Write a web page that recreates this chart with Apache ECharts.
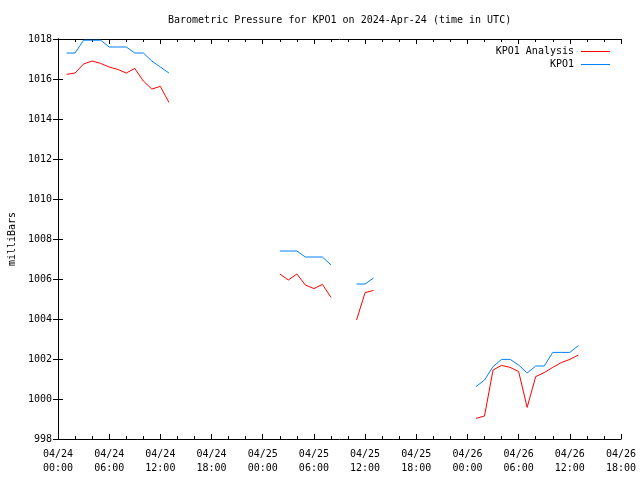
<!DOCTYPE html>
<html>
<head>
<meta charset="utf-8">
<script src="https://cdn.jsdelivr.net/npm/echarts@6/dist/echarts.min.js"></script>
<style>html,body{margin:0;padding:0;background:#fff}#c{width:640px;height:480px}</style>
</head>
<body>
<div id="c"></div>
<script>
// hours since 2024-04-24 00:00 UTC; null = gap in the record
const hours = [1,2,3,4,5,6,7,8,9,10,11,12,13,14,
               26,27,28,29,30,31,32,33,
               35,36,37,38,
               49,50,51,52,53,54,55,56,57,58,59,60,61];
const analysis = [1016.23,1016.3,1016.75,1016.9,1016.78,1016.6,1016.48,1016.3,1016.53,1015.9,1015.5,1015.63,1014.83,null,
                  1006.25,1005.95,1006.25,1005.7,1005.52,1005.73,1005.08,null,
                  1003.95,1005.32,1005.43,null,
                  999.03,999.15,1001.45,1001.68,1001.58,1001.37,999.58,1001.12,1001.32,1001.58,1001.82,1001.98,1002.2];
const observed = [1017.3,1017.3,1017.94,1017.94,1017.94,1017.6,1017.6,1017.6,1017.3,1017.3,1016.9,1016.6,1016.3,null,
                  1007.4,1007.4,1007.4,1007.1,1007.1,1007.1,1006.7,null,
                  1005.75,1005.75,1006.05,null,
                  1000.62,1000.95,1001.62,1001.98,1001.98,1001.7,1001.3,1001.65,1001.65,1002.33,1002.33,1002.33,1002.67];
const xTickLabels = ['04/24\n00:00','04/24\n06:00','04/24\n12:00','04/24\n18:00',
                     '04/25\n00:00','04/25\n06:00','04/25\n12:00','04/25\n18:00',
                     '04/26\n00:00','04/26\n06:00','04/26\n12:00','04/26\n18:00'];
const seriesNames = ['KPO1 Analysis','KPO1'];
const seriesColors = ['#ff0000','#0080ff'];

const FONT = 'DejaVu Sans Mono';
const pairs = vals => hours.map((h,i) => [h, vals[i] === null ? '-' : vals[i]]);

const chart = echarts.init(document.getElementById('c'), null, {renderer:'canvas'});
const axisLine = {show:true, lineStyle:{color:'#000', width:1}};
chart.setOption({
  animation:false,
  backgroundColor:'#fff',
  title:{text:'Barometric Pressure for KPO1 on 2024-Apr-24 (time in UTC)', left:168, top:15, padding:0,
    textStyle:{fontFamily:FONT, fontSize:10, fontWeight:'normal', color:'#000'}},
  legend:{orient:'vertical', right:30, top:45, padding:0, align:'right', itemGap:0, itemWidth:29, itemHeight:1,
    icon:'rect', textStyle:{fontFamily:FONT, fontSize:10, color:'#000', lineHeight:13, padding:[0,2,0,0]},
    data:seriesNames},
  grid:{left:58, top:39, width:563, height:400, containLabel:false, outerBoundsMode:'none'},
  xAxis:[{type:'value', min:0, max:66, interval:6, position:'bottom',
    axisLine:axisLine,
    axisTick:{show:true, inside:true, length:5, lineStyle:{color:'#000'}},
    minorTick:{show:true, splitNumber:3, length:3, lineStyle:{color:'#000'}},
    splitLine:{show:false},
    axisLabel:{fontFamily:FONT, fontSize:10, color:'#000', margin:8, lineHeight:14,
      formatter:v => xTickLabels[Math.round(v/6)]}},
   {type:'value', min:0, max:66, interval:6, position:'top',
    axisLine:axisLine,
    axisTick:{show:true, inside:true, length:5, lineStyle:{color:'#000'}},
    minorTick:{show:true, splitNumber:3, length:3, lineStyle:{color:'#000'}},
    splitLine:{show:false}, axisLabel:{show:false}}],
  yAxis:[{type:'value', min:998, max:1018, interval:2, position:'left',
    name:'milliBars', nameLocation:'middle', nameGap:41, nameRotate:90,
    nameTextStyle:{fontFamily:FONT, fontSize:10, color:'#000'},
    axisLine:axisLine,
    axisTick:{show:true, inside:true, length:5, lineStyle:{color:'#000'}},
    splitLine:{show:false},
    axisLabel:{fontFamily:FONT, fontSize:10, color:'#000', margin:6, formatter:v => String(v)}},
   {type:'value', min:998, max:1018, interval:2, position:'right',
    axisLine:axisLine,
    axisTick:{show:true, inside:true, length:5, lineStyle:{color:'#000'}},
    splitLine:{show:false}, axisLabel:{show:false}}],
  series:[
    {name:seriesNames[0], type:'line', data:pairs(analysis), showSymbol:false, symbol:'none',
     connectNulls:false, color:seriesColors[0], lineStyle:{width:1, color:seriesColors[0]}},
    {name:seriesNames[1], type:'line', data:pairs(observed), showSymbol:false, symbol:'none',
     connectNulls:false, color:seriesColors[1], lineStyle:{width:1, color:seriesColors[1]}}
  ]
});
</script>
</body>
</html>
